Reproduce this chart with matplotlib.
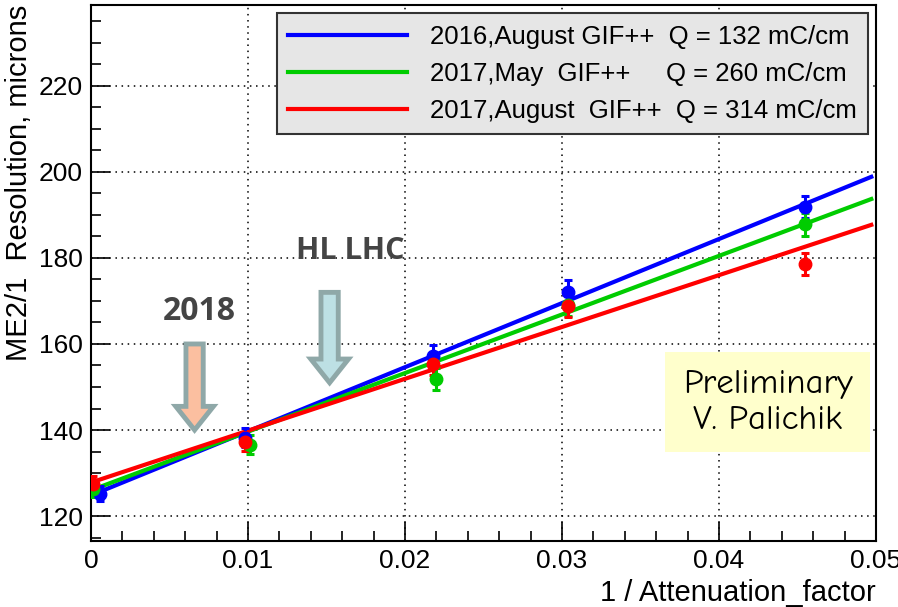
import matplotlib.pyplot as plt
from matplotlib.ticker import MultipleLocator
from matplotlib.patches import FancyArrow
import numpy as np

# data
att = [0.0001, 0.0098, 0.0218, 0.0304, 0.0455]
res_2016aug = [125.2, 138.2, 157.2, 172.0, 191.8]
res_2017may = [126.3, 136.6, 151.9, 169.0, 187.8]
res_2017aug = [127.4, 137.3, 155.3, 168.8, 178.6]
err_2016aug = [1.8, 2.2, 2.5, 2.8, 2.6]
err_2017may = [1.8, 2.2, 2.5, 2.6, 2.6]
err_2017aug = [1.8, 2.2, 2.5, 2.6, 2.6]
shift_2016aug = [0.0005, 0.0, 0.0, 0.0, 0.0]
shift_2017may = [0.0, 0.0003, 0.0002, 0.0, 0.0]

# fit lines (intercept, slope)
fit_2016aug = (124.8, 1490.0)
fit_2017may = (126.0, 1362.0)
fit_2017aug = (127.8, 1205.0)
fit_range = (0.0, 0.0497)

labels = ['2016,August GIF++  Q = 132 mC/cm',
          '2017,May  GIF++     Q = 260 mC/cm',
          '2017,August  GIF++  Q = 314 mC/cm']
colors = ['#0000ff', '#00cc00', '#ff0000']

plt.rcParams['font.family'] = ['Liberation Sans Narrow', 'Liberation Sans', 'DejaVu Sans']

fig = plt.figure(figsize=(8.98, 6.07), dpi=100)
ax = fig.add_axes([0.1013, 0.1087, 0.8742, 0.8831])

xs = np.array(fit_range)
series = [(res_2016aug, err_2016aug, fit_2016aug, shift_2016aug),
          (res_2017may, err_2017may, fit_2017may, shift_2017may),
          (res_2017aug, err_2017aug, fit_2017aug, [0.0] * 5)]
for i, (res, err, fit, shift) in enumerate(series):
    xp = np.array(att) + np.array(shift)
    ax.errorbar(xp, res, yerr=err, fmt='o', color=colors[i], ms=9,
                elinewidth=2.2, capsize=3, capthick=2.2, zorder=4)
    ax.plot(xs, fit[0] + fit[1] * xs, color=colors[i], lw=3, label=labels[i], zorder=3)

ax.set_xlim(0, 0.05)
ax.set_ylim(114.2, 238.8)
ax.xaxis.set_minor_locator(MultipleLocator(0.002))
ax.yaxis.set_major_locator(MultipleLocator(20))
ax.yaxis.set_minor_locator(MultipleLocator(5))
ax.set_xticks([0, 0.01, 0.02, 0.03, 0.04, 0.05])
ax.set_xticklabels(['0', '0.01', '0.02', '0.03', '0.04', '0.05'])
ax.tick_params(which='major', direction='in', length=14, width=1.2, labelsize=19, pad=6)
ax.tick_params(which='minor', direction='in', length=7, width=1.2)
ax.grid(True, which='major', linestyle=(0, (1, 3)), color='black', lw=1.1)
for s in ax.spines.values():
    s.set_linewidth(1.5)

ax.set_xlabel('1 / Attenuation_factor', fontsize=21, loc='right')
ax.set_ylabel('ME2/1  Resolution, microns', fontsize=21, loc='top')

leg = ax.legend(loc='upper right', bbox_to_anchor=(0.9965, 0.994), fontsize=18.5,
                fancybox=False, framealpha=1, facecolor='#e6e6e6', edgecolor='#333333',
                handlelength=4.6, handletextpad=0.9, borderpad=0.45, labelspacing=0.5,
                borderaxespad=0.2)
leg.get_frame().set_linewidth(1.5)

# Preliminary box
ax.text(0.0431, 146.5, 'Preliminary\nV. Palichik', fontsize=25, ha='center', va='center',
        family=['Comic Neue', 'Open Sans', 'DejaVu Sans'], linespacing=1.3,
        bbox=dict(boxstyle='square,pad=0.5', facecolor='#ffffcc', edgecolor='none'), zorder=5)

# arrows
ax.add_patch(FancyArrow(0.0066, 160.0, 0, -20.0, width=0.0011, head_width=0.0024,
                        head_length=5.5, length_includes_head=True,
                        facecolor='#fbbfa0', edgecolor='#8fa8a8', lw=3.5, zorder=5))
ax.add_patch(FancyArrow(0.0152, 172.0, 0, -21.0, width=0.0011, head_width=0.0024,
                        head_length=5.5, length_includes_head=True,
                        facecolor='#bde0e4', edgecolor='#8fa8a8', lw=3.5, zorder=5))
ax.text(0.0069, 167.5, '2018', fontsize=23, fontweight='bold', color='#444444',
        ha='center', va='center', family=['Open Sans', 'DejaVu Sans'])
ax.text(0.0165, 181.5, 'HL LHC', fontsize=22, fontweight='bold', color='#444444',
        ha='center', va='center', family=['Open Sans', 'DejaVu Sans'])

fig.savefig('out.png', dpi=100)
